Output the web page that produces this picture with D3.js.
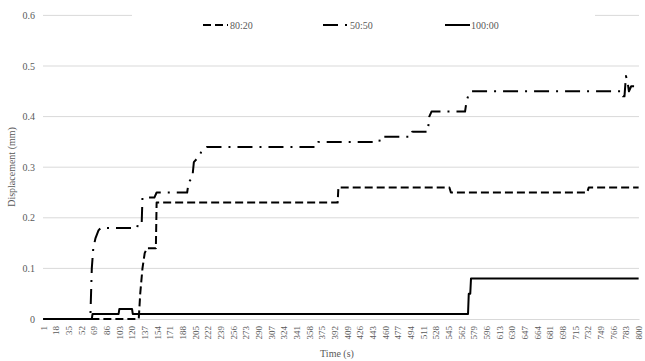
<!DOCTYPE html>
<html>
<head>
<meta charset="utf-8">
<script src="https://cdn.jsdelivr.net/npm/d3@7"></script>
<style>
  body { margin: 0; background: #fff; }
  text { font-family: "Liberation Serif", "Times New Roman", serif; fill: #595959; }
</style>
</head>
<body>
<svg id="chart" width="645" height="361"></svg>
<script>
// Time points (s) sampled along the category axis
const times = d3.range(1, 801);
const timeTicks = [1, 18, 35, 52, 69, 86, 103, 120, 137, 154, 171, 188, 205, 222, 239, 256,
  273, 290, 307, 324, 341, 358, 375, 392, 409, 426, 443, 460, 477, 494, 511, 528,
  545, 562, 579, 596, 613, 630, 647, 664, 681, 698, 715, 732, 749, 766, 783, 800];
const dispTicks = [0, 0.1, 0.2, 0.3, 0.4, 0.5, 0.6];

const seriesNames = ["80:20", "50:50", "100:00"];

// Displacement (mm) at the times where each record changes level
const time8020 = [1, 129, 131, 134, 137, 140, 152, 153, 396, 397, 546, 548, 731, 733, 800];
const disp8020 = [0, 0, 0.05, 0.10, 0.13, 0.14, 0.14, 0.23, 0.23, 0.26, 0.26, 0.25, 0.25, 0.26, 0.26];

const time5050 = [1, 64, 66, 68, 71, 75, 78, 127, 128, 133, 134, 150, 153, 194, 196, 201, 203,
  209, 213, 220, 368, 370, 452, 453, 494, 496, 517, 519, 522, 567, 569, 571, 575,
  778, 779, 781, 783, 785, 787, 790, 800];
const disp5050 = [0, 0, 0.10, 0.14, 0.16, 0.175, 0.18, 0.18, 0.19, 0.19, 0.24, 0.24, 0.25, 0.25, 0.27, 0.28, 0.31,
  0.32, 0.33, 0.34, 0.34, 0.35, 0.35, 0.36, 0.36, 0.37, 0.37, 0.40, 0.41, 0.41, 0.43, 0.44, 0.45,
  0.45, 0.44, 0.44, 0.48, 0.47, 0.45, 0.46, 0.46];

const time10000 = [1, 66, 67, 102, 103, 120, 121, 571, 572, 574, 575, 800];
const disp10000 = [0, 0, 0.01, 0.01, 0.02, 0.02, 0.01, 0.01, 0.05, 0.05, 0.08, 0.08];

const dashes = ["8,4", "15,7,2,7", null];

const svg = d3.select("#chart");
const plotLeft = 43, plotRight = 639, plotTop = 15.4, plotBottom = 319;

const x = d3.scaleBand().domain(times).range([plotLeft, plotRight]);
const y = d3.scaleLinear().domain([0, 0.6]).range([plotBottom, plotTop]);
const cx = t => x(t) + x.bandwidth() / 2;

// horizontal gridlines
svg.append("g").selectAll("line").data(dispTicks.filter(d => d > 0)).join("line")
  .attr("x1", plotLeft).attr("x2", plotRight)
  .attr("y1", d => y(d)).attr("y2", d => y(d))
  .attr("stroke", "#d9d9d9").attr("stroke-width", 1);

// y tick labels
svg.append("g").selectAll("text").data(dispTicks).join("text")
  .attr("x", 35).attr("y", d => y(d)).attr("dy", "0.35em")
  .attr("text-anchor", "end").attr("font-size", 10)
  .text(d => d === 0 ? "0" : d3.format(".1f")(d));

// x axis
const xAxis = svg.append("g").attr("transform", `translate(0,${plotBottom})`)
  .call(d3.axisBottom(x).tickValues(timeTicks).tickSize(0).tickPadding(0));
xAxis.select(".domain").attr("stroke", "#d9d9d9").attr("stroke-width", 1);
xAxis.selectAll("text")
  .attr("font-size", 9).attr("font-family", null).attr("fill", "#595959")
  .attr("text-anchor", "end")
  .attr("transform", "translate(0,7) rotate(-90)")
  .attr("x", 0).attr("y", 0).attr("dy", "0.35em");

// axis titles
svg.append("text").attr("x", 337).attr("y", 357).attr("text-anchor", "middle")
  .attr("font-size", 10).text("Time (s)");
svg.append("text").attr("transform", "translate(15,167) rotate(-90)")
  .attr("text-anchor", "middle").attr("font-size", 10).text("Displacement (mm)");

// series
const seriesData = [
  time8020.map((t, i) => ({ t, v: disp8020[i] })),
  time5050.map((t, i) => ({ t, v: disp5050[i] })),
  time10000.map((t, i) => ({ t, v: disp10000[i] }))
];
const line = d3.line().x(d => cx(d.t)).y(d => y(d.v));
svg.append("g").selectAll("path").data(seriesData).join("path")
  .attr("d", line)
  .attr("fill", "none").attr("stroke", "#000").attr("stroke-width", 2)
  .attr("stroke-linejoin", "round")
  .attr("stroke-dasharray", (d, i) => dashes[i]);

// legend
const legend = svg.append("g");
legend.append("rect").attr("x", 132).attr("y", 5).attr("width", 463).attr("height", 30).attr("fill", "#fff");
const legendX = [203, 323, 445];
const item = legend.selectAll("g").data(seriesNames).join("g")
  .attr("transform", (d, i) => `translate(${legendX[i]},25)`);
item.append("line").attr("x1", 0).attr("x2", 25).attr("y1", 0).attr("y2", 0)
  .attr("stroke", "#000").attr("stroke-width", 2)
  .attr("stroke-dasharray", (d, i) => dashes[i]);
item.append("text").attr("x", (d, i) => [27, 27, 26][i]).attr("dy", "0.35em")
  .attr("font-size", 10).text(d => d);
</script>
</body>
</html>
